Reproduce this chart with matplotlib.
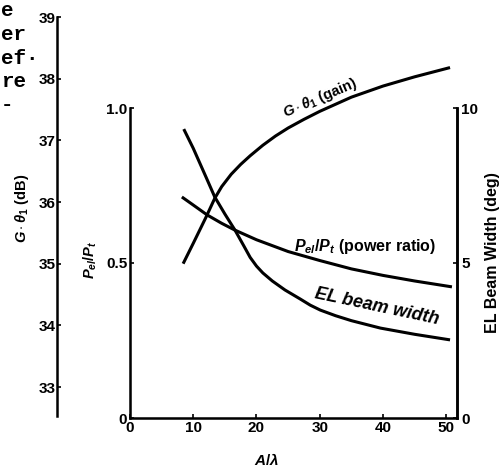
import matplotlib
matplotlib.use("Agg")
import matplotlib.pyplot as plt

plt.rcParams["font.family"] = ["Liberation Sans", "DejaVu Sans"]
plt.rcParams["font.weight"] = "bold"
plt.rcParams["mathtext.fontset"] = "custom"
plt.rcParams["mathtext.it"] = "Liberation Sans:italic:bold"
plt.rcParams["mathtext.rm"] = "Liberation Sans:bold"
plt.rcParams["mathtext.bf"] = "Liberation Sans:bold"

# ===== DATA =====
# gain G*theta (dB) vs A/lambda
gain_x = [8.4, 10, 12, 13.4, 14.5, 16, 17.5, 19, 21, 23, 25, 27.5, 30, 35, 40, 45, 50.6]
gain_db = [35.0, 35.33, 35.75, 36.06, 36.25, 36.45, 36.61, 36.75, 36.92, 37.07, 37.2,
           37.34, 37.47, 37.7, 37.88, 38.03, 38.18]

# power ratio Pel/Pt vs A/lambda
power_x = [8.2, 10, 12.2, 14.5, 16.6, 20, 25, 30, 35, 40, 45, 50.9]
power_ratio = [0.713, 0.687, 0.655, 0.628, 0.606, 0.575, 0.537, 0.508, 0.481, 0.46, 0.442, 0.423]

# EL beam width (deg) vs A/lambda
beam_x = [8.5, 10, 12, 13.4, 15, 16.6, 18, 19, 20, 21, 22.5, 24.5, 26.9, 28.5, 30.1,
          32.5, 35, 39.6, 45, 50.6]
beam_deg = [9.32, 8.7, 7.78, 7.13, 6.58, 6.06, 5.55, 5.18, 4.9, 4.68, 4.42, 4.13, 3.84,
            3.64, 3.48, 3.3, 3.14, 2.9, 2.7, 2.52]

x_ticks = [0, 10, 20, 30, 40, 50]
db_ticks = [33, 34, 35, 36, 37, 38, 39]
ratio_ticks = [0, 0.5, 1.0]
ratio_labels = ["0", "0.5", "1.0"]
deg_ticks = [0, 5, 10]

# page text cut off at the left edge of the scan
side_text = ["e", "er", "ef·", "re", "-"]

W, H = 504, 469
fig = plt.figure(figsize=(W / 100, H / 100), dpi=100)

lw_spine = 1.8
lw_curve = 2.2
tick_fs = 11

# ===== MAIN AXES (power ratio) =====
ax = fig.add_axes([130 / W, 1 - 418 / H, 327 / W, 310 / H])
ax.set_xlim(0, 51.7)
ax.set_ylim(0, 1.0)
ax.spines["top"].set_visible(False)
for s in ["left", "bottom", "right"]:
    ax.spines[s].set_linewidth(lw_spine)
ax.set_xticks(x_ticks)
ax.set_yticks(ratio_ticks)
ax.set_yticklabels(ratio_labels)
ax.tick_params(direction="in", length=3, width=1.2, labelsize=tick_fs, pad=2)
ax.plot(power_x, power_ratio, color="black", lw=lw_curve, solid_capstyle="butt")

# ===== RIGHT AXIS (EL beam width) =====
ax2 = ax.twinx()
ax2.set_ylim(0, 10)
ax2.spines["top"].set_visible(False)
ax2.spines["right"].set_linewidth(lw_spine)
ax2.set_yticks(deg_ticks)
ax2.tick_params(direction="in", length=3, width=1.2, labelsize=tick_fs, pad=3)
ax2.plot(beam_x, beam_deg, color="black", lw=lw_curve, solid_capstyle="butt")

# ===== OUTER LEFT AXIS (gain, dB) =====
axg = fig.add_axes([130 / W, 1 - 416 / H, 327 / W, (416 - 17) / H])
axg.patch.set_visible(False)
axg.set_xlim(ax.get_xlim())
axg.set_ylim(32.53, 39.0)
for s in ["top", "right", "bottom"]:
    axg.spines[s].set_visible(False)
axg.spines["left"].set_position(("axes", (57 - 130) / 327))
axg.spines["left"].set_linewidth(lw_spine)
axg.set_xticks([])
axg.set_yticks(db_ticks)
axg.tick_params(direction="in", length=3, width=1.2, labelsize=tick_fs, pad=1)
axg.plot(gain_x, gain_db, color="black", lw=lw_curve, solid_capstyle="butt")

# ===== LABELS =====
def px(x, y):
    return x / W, 1 - y / H

fig.text(*px(22, 208), r"$G\cdot\theta_1$ (dB)", rotation=90, ha="center", va="center", fontsize=10.5)
fig.text(*px(90, 260), r"$P_{el}/P_t$", rotation=90, ha="center", va="center", fontsize=10.5)
fig.text(*px(493, 253), "EL Beam Width (deg)", rotation=90, ha="center", va="center", fontsize=11.5)
fig.text(*px(267, 460), r"$A/\lambda$", ha="center", va="center", fontsize=11)

fig.text(*px(320, 98), r"$G\cdot\theta_1$ (gain)", rotation=23, ha="center", va="center", fontsize=10.5)
fig.text(*px(365, 246), r"$P_{el}/P_t$ (power ratio)", ha="center", va="center", fontsize=11.5)
fig.text(*px(377, 307), "EL beam width", rotation=-12, ha="center", va="center",
         fontsize=13, style="italic")

for i, t in enumerate(side_text):
    fig.text(*px(1, 11 + 23.5 * i), t, ha="left", va="center", fontsize=15,
             family="Liberation Mono", weight="bold")

fig.savefig("out.png", dpi=100)
plt.close(fig)
